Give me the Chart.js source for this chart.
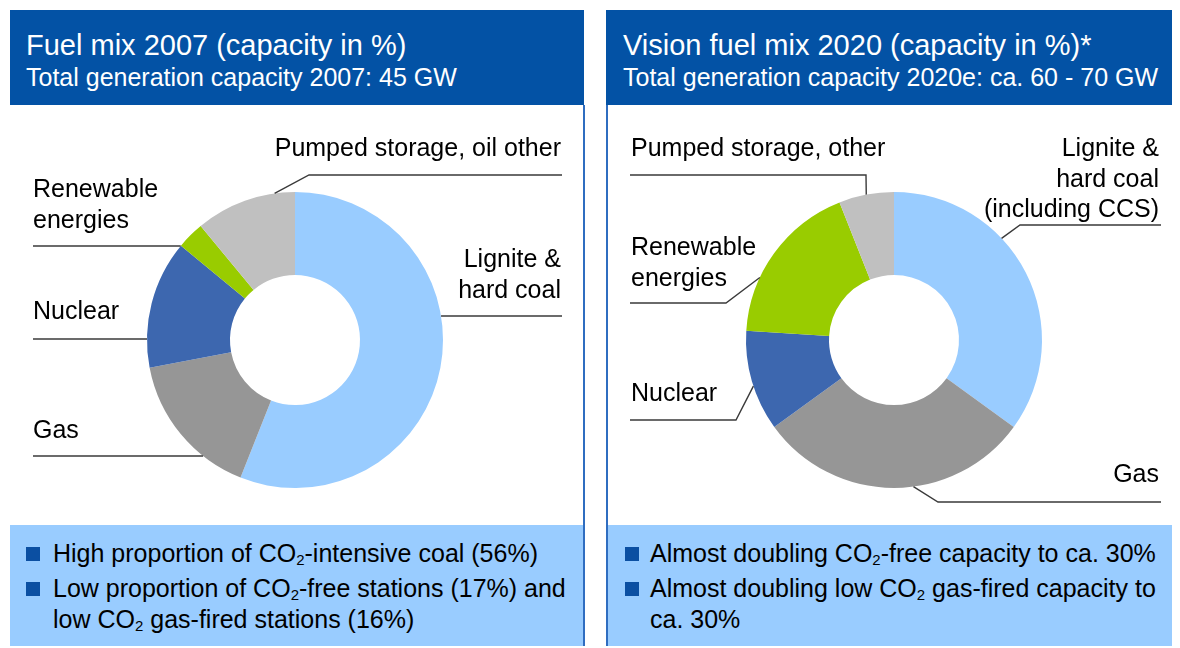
<!DOCTYPE html>
<html>
<head>
<meta charset="utf-8">
<script src="https://cdn.jsdelivr.net/npm/chart.js@4"></script>
<style>
  html, body { margin:0; padding:0; }
  body { width:1180px; height:648px; background:#fff; position:relative; overflow:hidden;
         font-family:'Liberation Sans', Arial, sans-serif; color:#000; }
  .abs { position:absolute; }
  .hdr { background:#0352A5; color:#fff; }
  .title { position:absolute; font-size:29px; line-height:34px; white-space:nowrap; }
  .sub { position:absolute; font-size:25px; line-height:30px; white-space:nowrap; }
  .lbl { position:absolute; font-size:25px; line-height:30.5px; white-space:nowrap; }
  .r { text-align:right; }
  .box { background:#99CCFF; }
  .bul { position:absolute; width:14px; height:14px; background:#0B4FA2; }
  .btxt { position:absolute; font-size:25px; line-height:31px; white-space:nowrap; }
  sub { font-size:15px; line-height:0; position:relative; top:3px; vertical-align:baseline; }
  .vline { position:absolute; width:1.5px; background:#2F6DC0; }
  canvas { position:absolute; }
</style>
</head>
<body>
<!-- left panel -->
<div class="abs hdr" style="left:10px;top:10px;width:574px;height:95px;">
  <div class="title" style="left:16px;top:18px;">Fuel mix 2007 (capacity in %)</div>
  <div class="sub" style="left:16px;top:52px;">Total generation capacity 2007: 45 GW</div>
</div>
<div class="abs box" style="left:10px;top:525px;width:573px;height:121px;">
  <div class="bul" style="left:16px;top:22px;"></div>
  <div class="btxt" style="left:43px;top:13px;">High proportion of CO<sub>2</sub>-intensive coal (56%)</div>
  <div class="bul" style="left:16px;top:57px;"></div>
  <div class="btxt" style="left:43px;top:48px;">Low proportion of CO<sub>2</sub>-free stations (17%) and<br>low CO<sub>2</sub> gas-fired stations (16%)</div>
</div>
<div class="vline" style="left:583px;top:105px;height:541px;"></div>

<!-- right panel -->
<div class="abs hdr" style="left:606px;top:10px;width:566px;height:95px;">
  <div class="title" style="left:17px;top:18px;">Vision fuel mix 2020 (capacity in %)*</div>
  <div class="sub" style="left:17px;top:52px;">Total generation capacity 2020e: ca. 60 - 70 GW</div>
</div>
<div class="abs box" style="left:607px;top:525px;width:565px;height:121px;">
  <div class="bul" style="left:18px;top:22px;"></div>
  <div class="btxt" style="left:43px;top:13px;">Almost doubling CO<sub>2</sub>-free capacity to ca. 30%</div>
  <div class="bul" style="left:18px;top:57px;"></div>
  <div class="btxt" style="left:43px;top:48px;">Almost doubling low CO<sub>2</sub> gas-fired capacity to<br>ca. 30%</div>
</div>
<div class="vline" style="left:606px;top:105px;height:541px;"></div>

<canvas id="c1" width="573" height="420" style="left:10px;top:105px;width:573px;height:420px;"></canvas>
<canvas id="c2" width="565" height="420" style="left:607px;top:105px;width:565px;height:420px;"></canvas>

<!-- labels -->
<div class="lbl r" style="right:619px;top:132px;">Pumped storage, oil other</div>
<div class="lbl" style="left:33px;top:173px;">Renewable<br>energies</div>
<div class="lbl" style="left:33px;top:295px;">Nuclear</div>
<div class="lbl" style="left:33px;top:414px;">Gas</div>
<div class="lbl r" style="right:619px;top:243px;">Lignite &amp;<br>hard coal</div>

<div class="lbl" style="left:631px;top:132px;">Pumped storage, other</div>
<div class="lbl r" style="right:21px;top:132px;">Lignite &amp;<br>hard coal<br>(including CCS)</div>
<div class="lbl" style="left:631px;top:231px;">Renewable<br>energies</div>
<div class="lbl" style="left:631px;top:377px;">Nuclear</div>
<div class="lbl r" style="right:21px;top:458px;">Gas</div>

<script>
// ---- data ----
const categories2007 = ['Lignite & hard coal', 'Gas', 'Nuclear', 'Renewable energies', 'Pumped storage, oil other'];
const values2007 = [56, 16, 14, 3, 11];
const categories2020 = ['Lignite & hard coal (including CCS)', 'Gas', 'Nuclear', 'Renewable energies', 'Pumped storage, other'];
const values2020 = [35, 30, 11, 18, 6];
const sliceColors = ['#99CCFF', '#969696', '#3D67AF', '#99CC00', '#C0C0C0'];

// ---- leader line layout (canvas coordinates) ----
// type 'h': horizontal line at y from x0 to circle edge on given side
// type 'p': polyline points then to the arc's outer edge at fraction f of the slice
const leaders2007 = [
  {type:'h', y:211, x0:552, side:1},
  {type:'h', y:351, x0:23,  side:-1},
  {type:'h', y:234, x0:23,  side:-1},
  {type:'h', y:141, x0:23,  side:-1},
  {type:'p', i:4, f:0.8, pts:[[552,70],[299,70]]}
];
const leaders2020 = [
  {type:'p', i:0, f:0.37, pts:[[554,120],[413,120]]},
  {type:'p', i:1, f:0.43, pts:[[554,397],[331,397]]},
  {type:'p', i:2, f:0.45, pts:[[23,315],[129,315]]},
  {type:'p', i:3, f:0.33, pts:[[23,198],[119,198]]},
  {type:'p', i:4, f:0.5,  pts:[[23,70],[259,70]]}
];

const leaderPlugin = {
  id: 'leaders',
  afterDatasetsDraw(chart, args, opts) {
    const ctx = chart.ctx;
    const meta = chart.getDatasetMeta(0);
    const a0 = meta.data[0];
    const cx = a0.x, cy = a0.y, R = a0.outerRadius;
    ctx.save();
    ctx.strokeStyle = '#3A3A3A';
    ctx.lineWidth = 1.4;
    for (const L of opts.items) {
      ctx.beginPath();
      if (L.type === 'h') {
        const dx = Math.sqrt(Math.max(R*R - (L.y-cy)*(L.y-cy), 0));
        ctx.moveTo(L.x0, L.y);
        ctx.lineTo(cx + L.side*dx, L.y);
      } else {
        const arc = meta.data[L.i];
        const ang = arc.startAngle + L.f*(arc.endAngle - arc.startAngle);
        ctx.moveTo(L.pts[0][0], L.pts[0][1]);
        for (let k=1;k<L.pts.length;k++) ctx.lineTo(L.pts[k][0], L.pts[k][1]);
        ctx.lineTo(cx + Math.cos(ang)*R, cy + Math.sin(ang)*R);
      }
      ctx.stroke();
    }
    ctx.restore();
  }
};

function makeChart(id, labels, values, padding, items) {
  return new Chart(document.getElementById(id), {
    type: 'doughnut',
    data: { labels: labels, datasets: [{ data: values, backgroundColor: sliceColors, borderWidth: 0, hoverOffset: 0 }] },
    options: {
      responsive: false, animation: false, events: [],
      radius: 148, cutout: 65,
      layout: { padding: padding },
      plugins: { legend: { display:false }, tooltip: { enabled:false }, leaders: { items: items } }
    },
    plugins: [leaderPlugin]
  });
}

makeChart('c1', categories2007, values2007, {left:137, right:140, top:87, bottom:37}, leaders2007);
makeChart('c2', categories2020, values2020, {left:139, right:130, top:87, bottom:37}, leaders2020);
</script>
</body>
</html>
